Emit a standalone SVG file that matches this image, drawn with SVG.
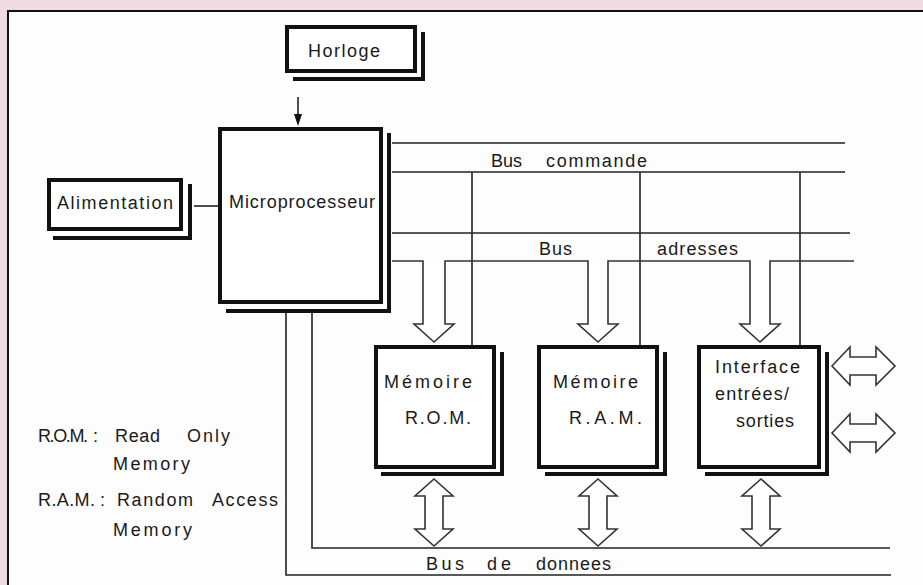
<svg xmlns="http://www.w3.org/2000/svg" width="923" height="585" viewBox="0 0 923 585">
<style>
.box{fill:#fff;stroke:#111;stroke-width:4}
.sh{stroke:#111;stroke-width:4;fill:none}
.ln{stroke:#222;stroke-width:1.6;fill:none}
.ar{stroke:#333;stroke-width:1.6;fill:#fff;stroke-linejoin:miter}
.t{font-family:"Liberation Sans",Arial,sans-serif;font-size:18px;fill:#1a1a1a}
</style>
<rect x="0" y="0" width="923" height="585" fill="#eedce2"/>
<rect x="8" y="11" width="915" height="574" fill="#fdfdfd"/>
<path d="M8 585 V11 H923" stroke="#111" stroke-width="2" fill="none"/>

<g id="connectors">
<path class="ln" d="M298 97 V116"/>
<polygon points="294,114 302,114 298,126" fill="#111"/>
<path class="ln" d="M194 206 H218"/>
<path class="ln" d="M392 143 H845 M392 172 H845 M392 233 H850"/>
<path class="ln" d="M472 172 V345 M640 172 V345 M800 172 V345"/>
<path class="ar" d="M392 261 H423 V324 H414 L434 342 L454 324 H445 V261 H588 V324 H578 L598 342 L618 324 H608 V261 H750 V324 H740 L760 342 L780 324 H770 V261 H854"/>
<path class="ln" d="M286 313 V575 H891 M312 313 V548 H890"/>
<path class="ar" d="M434 479 L453 496 H443 V529 H453 L434 546 L415 529 H425 V496 H415 Z"/>
<path class="ar" d="M598 479 L617 496 H607 V529 H617 L598 546 L579 529 H589 V496 H579 Z"/>
<path class="ar" d="M761 479 L780 496 H770 V529 H780 L761 546 L742 529 H752 V496 H742 Z"/>
<path class="ar" d="M832 366 L850 347 V357 H876 V347 L895 366 L876 385 V375 H850 V385 Z"/>
<path class="ar" d="M832 433 L850 414 V424 H876 V414 L895 433 L876 452 V442 H850 V452 Z"/>
</g>

<g id="horloge">
<rect class="box" x="287" y="27" width="128" height="44"/>
<path class="sh" d="M423 32 V81 M293 79 H425"/>
<text class="t" x="308" y="57" textLength="72">Horloge</text>
</g>

<g id="alimentation">
<rect class="box" x="49" y="180" width="132" height="49"/>
<path class="sh" d="M190 184 V240 M53 238 H192"/>
<text class="t" x="57" y="209" textLength="116">Alimentation</text>
</g>

<g id="microprocesseur">
<rect class="box" x="220" y="129" width="161" height="173"/>
<path class="sh" d="M389 133 V313 M226 311 H391"/>
<text class="t" x="229" y="208" textLength="146">Microprocesseur</text>
</g>

<g id="rom">
<rect class="box" x="376" y="347" width="118" height="120"/>
<path class="sh" d="M502 352 V476 M381 474 H504"/>
<text class="t" x="384" y="388" textLength="88">Mémoire</text>
<text class="t" x="405" y="424" textLength="66">R.O.M.</text>
</g>

<g id="ram">
<rect class="box" x="539" y="347" width="118" height="120"/>
<path class="sh" d="M665 352 V476 M545 474 H667"/>
<text class="t" x="553" y="388" textLength="85">Mémoire</text>
<text class="t" x="569" y="424" textLength="73">R.A.M.</text>
</g>

<g id="interface">
<rect class="box" x="699" y="347" width="120" height="120"/>
<path class="sh" d="M827 352 V476 M705 474 H829"/>
<text class="t" x="715" y="373" textLength="85">Interface</text>
<text class="t" x="715" y="400" textLength="74">entrées/</text>
<text class="t" x="736" y="427" textLength="58">sorties</text>
</g>

<g id="labels">
<text class="t" x="491" y="167" textLength="31">Bus</text>
<text class="t" x="546" y="167" textLength="101">commande</text>
<text class="t" x="539" y="255" textLength="33">Bus</text>
<text class="t" x="657" y="255" textLength="81">adresses</text>
<text class="t" x="426" y="570" textLength="38">Bus</text>
<text class="t" x="487" y="570" textLength="24">de</text>
<text class="t" x="536" y="570" textLength="75">donnees</text>
</g>

<g id="legend">
<text class="t" x="38" y="442" textLength="50">R.O.M.</text>
<text class="t" x="93" y="442">:</text>
<text class="t" x="115" y="442" textLength="45">Read</text>
<text class="t" x="187" y="442" textLength="43">Only</text>
<text class="t" x="113" y="470" textLength="77">Memory</text>
<text class="t" x="38" y="506" textLength="57">R.A.M.</text>
<text class="t" x="100" y="506">:</text>
<text class="t" x="117" y="506" textLength="76">Random</text>
<text class="t" x="212" y="506" textLength="66">Access</text>
<text class="t" x="113" y="536" textLength="79">Memory</text>
</g>
</svg>
